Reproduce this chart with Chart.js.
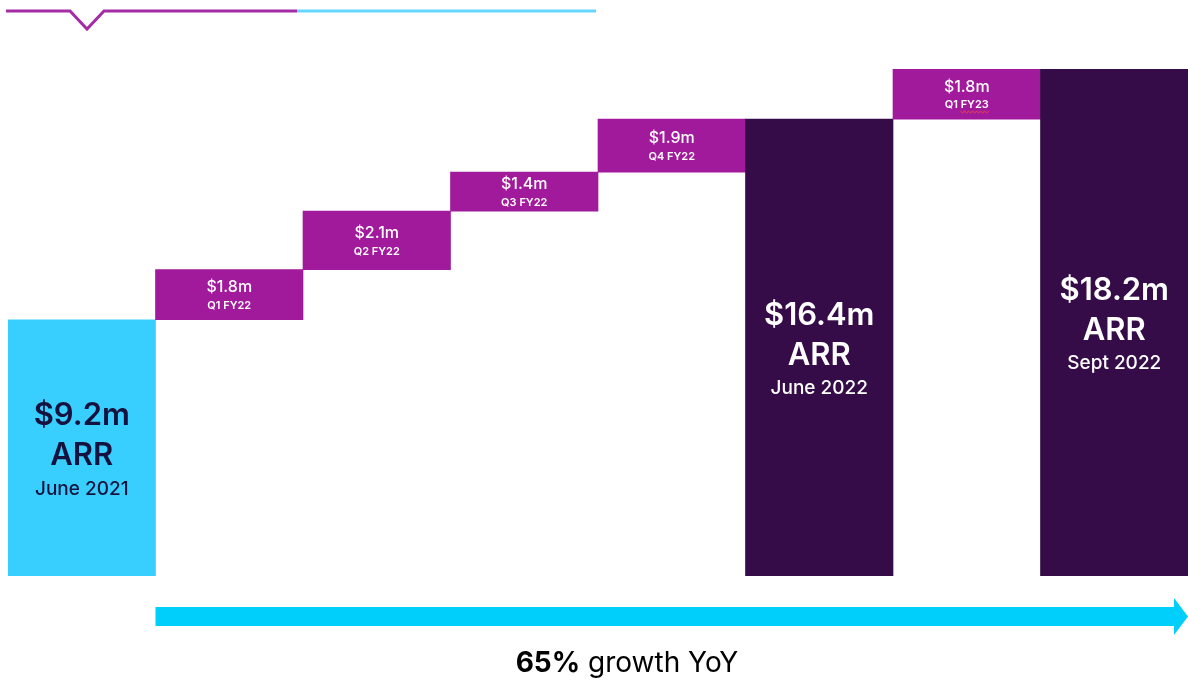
<!DOCTYPE html>
<html>
<head>
<meta charset="utf-8">
<script src="https://cdn.jsdelivr.net/npm/chart.js@4"></script>
<style>
  html, body { margin: 0; padding: 0; background: #fff; }
  #wrap { width: 1188px; height: 684px; position: relative; }
</style>
</head>
<body>
<div id="wrap"><canvas id="arrChart"></canvas></div>
<script>
const CATEGORIES = ['June 2021', 'Q1 FY22', 'Q2 FY22', 'Q3 FY22', 'Q4 FY22', 'June 2022', 'Q1 FY23', 'Sept 2022'];
const AMOUNTS = [9.2, 1.8, 2.1, 1.4, 1.9, 16.4, 1.8, 18.2];
const IS_TOTAL = [true, false, false, false, false, true, false, true];
const VALUE_LABELS = ['$9.2m', '$1.8m', '$2.1m', '$1.4m', '$1.9m', '$16.4m', '$1.8m', '$18.2m'];
const Y_MAX = 18.2;

const COL_START = '#38CFFE';
const COL_STEP = '#A11A9B';
const COL_TOTAL = '#350C48';
const FONT = 'Inter, "Noto Sans", sans-serif';

// waterfall ranges: totals sit on zero, steps float on the running total
function buildRanges() {
  let running = 0;
  return AMOUNTS.map((v, i) => {
    if (IS_TOTAL[i]) { running = v; return [0, v]; }
    const r = [running, +(running + v).toFixed(2)];
    running = r[1];
    return r;
  });
}

const barColors = CATEGORIES.map((c, i) => i === 0 ? COL_START : (IS_TOTAL[i] ? COL_TOTAL : COL_STEP));

// ─── Labels inside bars ──────────────────────────────────
const barLabels = {
  id: 'barLabels',
  afterDatasetsDraw(chart) {
    const ctx = chart.ctx;
    const meta = chart.getDatasetMeta(0);
    ctx.save();
    ctx.textAlign = 'center';
    ctx.textBaseline = 'middle';
    meta.data.forEach((bar, i) => {
      const top = Math.min(bar.y, bar.base);
      const bottom = Math.max(bar.y, bar.base);
      const cy = (top + bottom) / 2;
      if (IS_TOTAL[i]) {
        ctx.fillStyle = i === 0 ? '#16123F' : '#FFFFFF';
        ctx.font = '600 31px ' + FONT;
        ctx.fillText(VALUE_LABELS[i], bar.x, cy - 32);
        ctx.fillText('ARR', bar.x, cy + 8);
        ctx.font = '500 19px ' + FONT;
        ctx.fillText(CATEGORIES[i], bar.x, cy + 41);
      } else {
        ctx.fillStyle = '#FFFFFF';
        ctx.font = '500 16px ' + FONT;
        ctx.fillText(VALUE_LABELS[i], bar.x, cy - 7);
        ctx.font = '600 11px ' + FONT;
        ctx.fillText(CATEGORIES[i], bar.x, cy + 11);
        if (CATEGORIES[i] === 'Q1 FY23') {
          // spell-check squiggle under FY23
          const w = ctx.measureText(CATEGORIES[i]).width;
          const x0 = bar.x - w / 2 + ctx.measureText('Q1 ').width;
          const x1 = bar.x + w / 2;
          const yy = cy + 18;
          ctx.strokeStyle = '#E8453C';
          ctx.lineWidth = 1;
          ctx.beginPath();
          for (let x = x0, k = 0; x <= x1; x += 2, k++) {
            const y = yy + (k % 2 ? 1.2 : -1.2);
            if (k === 0) ctx.moveTo(x, y); else ctx.lineTo(x, y);
          }
          ctx.stroke();
        }
      }
    });
    ctx.restore();
  }
};

// ─── Header mark, growth arrow, caption ──────────────────
const decorations = {
  id: 'decorations',
  afterDraw(chart) {
    const ctx = chart.ctx;
    const meta = chart.getDatasetMeta(0);
    ctx.save();
    // header line with notch
    ctx.lineWidth = 3;
    ctx.lineJoin = 'miter';
    ctx.strokeStyle = '#A42CA5';
    ctx.beginPath();
    ctx.moveTo(6, 11);
    ctx.lineTo(70, 11);
    ctx.lineTo(87, 29);
    ctx.lineTo(104, 11);
    ctx.lineTo(297, 11);
    ctx.stroke();
    ctx.strokeStyle = '#66D5FF';
    ctx.beginPath();
    ctx.moveTo(297, 11);
    ctx.lineTo(596, 11);
    ctx.stroke();

    // arrow under the step bars
    const first = meta.data[1];
    const x0 = first.x - first.width / 2;
    const xEnd = chart.width;
    ctx.fillStyle = '#00CFFC';
    ctx.fillRect(x0, 607, xEnd - 13 - x0, 19);
    ctx.beginPath();
    ctx.moveTo(xEnd - 14, 598);
    ctx.lineTo(xEnd, 616.5);
    ctx.lineTo(xEnd - 14, 635);
    ctx.closePath();
    ctx.fill();

    // caption
    ctx.textBaseline = 'middle';
    ctx.textAlign = 'left';
    ctx.fillStyle = '#000000';
    ctx.font = '700 28px ' + FONT;
    const a = '65%';
    const b = ' growth YoY';
    const wa = ctx.measureText(a).width;
    ctx.font = '400 28px ' + FONT;
    const wb = ctx.measureText(b).width;
    const sx = 627 - (wa + wb) / 2;
    ctx.font = '700 28px ' + FONT;
    ctx.fillText(a, sx, 664);
    ctx.font = '400 28px ' + FONT;
    ctx.fillText(b, sx + wa, 664);
    ctx.restore();
  }
};

function initChart() {
  const ctx = document.getElementById('arrChart').getContext('2d');
  new Chart(ctx, {
    type: 'bar',
    data: {
      labels: CATEGORIES,
      datasets: [{
        data: buildRanges(),
        backgroundColor: barColors,
        borderWidth: 0,
        borderSkipped: false,
        barPercentage: 1,
        categoryPercentage: 1,
      }]
    },
    options: {
      responsive: true,
      maintainAspectRatio: false,
      animation: false,
      layout: { padding: { left: 8, right: 0, top: 69, bottom: 108 } },
      plugins: { legend: { display: false }, tooltip: { enabled: false } },
      scales: {
        x: { display: false },
        y: { display: false, min: 0, max: Y_MAX }
      }
    },
    plugins: [barLabels, decorations]
  });
}

initChart();
</script>
</body>
</html>
